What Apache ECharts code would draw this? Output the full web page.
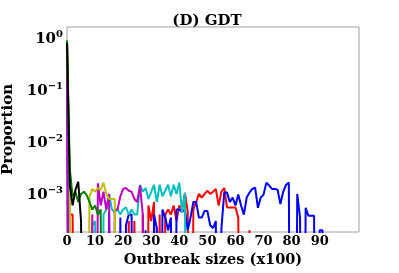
<!DOCTYPE html>
<html><head><meta charset="utf-8">
<script src="https://cdn.jsdelivr.net/npm/echarts@6/dist/echarts.min.js"></script>
<style>html,body{margin:0;padding:0;background:#fff}#c{width:399px;height:273px}</style>
</head><body><div id="c"></div>
<script>
// Outbreak size index (x100) is the array position: 0,1,2,...
const xTicks = [0,10,20,30,40,50,60,70,80,90];
const yTickExponents = [0,-1,-2,-3];

function seq(pairs, n){ const a=new Array(n).fill(0); for(const [i,v] of pairs) a[i]=v; return a; }
const N = 96;
// proportions (0 = no outbreak of that size)
const blueVals = seq([[0,0.85],[15,4.4e-4],[19,3.5e-4],[21,2.5e-4],[22,4e-4],[23,4e-4],[28,2e-4],[31,4e-4],[32,2.2e-4],[34,5e-4],[35,3.5e-4],[36,2e-4],[37,3.5e-4],[39,5e-4],[40,5e-4],[41,4.5e-4],[42,5e-4],[43,2e-4],[44,3.5e-4],[45,7e-4],[46,7e-4],[47,3.5e-4],[48,3.5e-4],[49,4.7e-4],[50,4.7e-4],[51,2.5e-4],[52,2.2e-4],[53,3e-4],[55,2.2e-4],[56,1.06e-3],[57,1.06e-3],[58,7e-4],[59,8.5e-4],[60,6e-4],[61,9.7e-4],[62,6e-4],[63,4e-4],[64,8.5e-4],[65,1.06e-3],[66,1.25e-3],[67,1.32e-3],[68,5.4e-4],[69,8.5e-4],[70,9.7e-4],[71,1.65e-3],[72,1.45e-3],[73,1.25e-3],[74,1.25e-3],[75,1.2e-3],[76,6.4e-4],[77,1.1e-3],[78,1.5e-3],[79,1.65e-3],[82,1e-3],[83,3.5e-4],[85,5.4e-4],[86,3.8e-4],[87,3.8e-4],[88,3.8e-4],[90,2e-4],[91,2e-4]], N);
const greenVals = seq([[0,0.9],[1,3e-3],[2,9e-4],[3,1.1e-3],[4,7e-4],[5,1e-3],[6,1.1e-3],[7,9.5e-4],[8,7e-4],[9,5e-4],[10,6e-4],[11,4e-4],[12,5e-4]], N);
const redVals = seq([[0,0.88],[1,4e-4],[2,4e-4],[22,3e-4],[24,3e-4],[27,4e-4],[29,6e-4],[30,3e-4],[31,7e-4],[33,4e-4],[35,4e-4],[36,5e-4],[37,4e-4],[38,6e-4],[39,3e-4],[40,6e-4],[41,5e-4],[42,1.05e-3],[43,4.5e-4],[45,5e-4],[46,7e-4],[47,1e-3],[48,8.5e-4],[49,1e-3],[50,1.15e-3],[51,1e-3],[52,1.1e-3],[53,1.25e-3],[54,6e-4],[55,1.1e-3],[56,1.3e-3],[57,5.5e-4],[58,5.5e-4],[59,5.5e-4],[60,5.5e-4],[61,3.5e-4],[65,2e-4]], N);
const cyanVals = seq([[0,0.86],[1,3e-4],[9,2.5e-4],[10,3e-4],[13,4e-4],[14,5e-4],[15,1e-3],[16,5e-4],[17,4.5e-4],[18,5e-4],[19,4e-4],[20,5e-4],[21,5.5e-4],[22,4e-4],[23,5e-4],[24,4e-4],[25,4e-4],[26,1.5e-3],[27,1.1e-3],[28,1.3e-3],[29,8e-4],[30,1.1e-3],[31,1.5e-3],[32,7e-4],[33,1.5e-3],[34,9e-4],[35,1.15e-3],[36,1.5e-3],[37,9e-4],[38,1.5e-3],[39,1e-3],[40,1.65e-3],[41,4.3e-4],[42,1.05e-3]], N);
const magentaVals = seq([[0,0.87],[9,4e-4],[11,1.6e-3],[12,6e-4],[13,1.1e-3],[14,5e-4],[15,1e-3],[17,5e-4],[18,5e-4],[19,9e-4],[20,1.25e-3],[21,1.3e-3],[22,1.15e-3],[23,1.1e-3],[24,8e-4],[25,7e-4],[26,1.45e-3],[27,4e-4]], N);
const yellowVals = seq([[0,0.9],[1,2e-3],[8,9e-4],[9,1.25e-3],[10,1.1e-3],[11,1.3e-3],[12,1.2e-3],[13,1.65e-3],[14,1e-3],[15,8e-4],[16,8e-4],[17,8e-4]], N);
const blackVals = seq([[0,0.8],[1,1.5e-3],[2,6e-4],[3,1.2e-3],[4,1.7e-3],[5,3e-4]], N);

const seriesList = [
  {vals: redVals, color:'#ff0000'},
  {vals: blueVals, color:'#0000ff'},
  {vals: cyanVals, color:'#00bfbf'},
  {vals: magentaVals, color:'#bf00bf'},
  {vals: yellowVals, color:'#bfbf00'},
  {vals: greenVals, color:'#008000'},
  {vals: blackVals, color:'#000000'}
];
const FLOOR = 1e-12; // zeros clipped to the bottom on the log axis

const chart = echarts.init(document.getElementById('c'), null, {renderer:'canvas'});
const serif = 'DejaVu Serif';
chart.setOption({
  animation:false,
  backgroundColor:'#fff',
  title:{text:'(D) GDT', left:202, top:9, textAlign:'center',
    textStyle:{fontFamily:serif, fontWeight:'bold', fontSize:15, color:'#000'}},
  grid:{left:67, right:40, top:27, bottom:41, outerBoundsMode:'none', containLabel:false,
    show:true, borderColor:'#a0a0a0', borderWidth:1, backgroundColor:'transparent'},
  xAxis:{type:'value', min:0, max:104, interval:10,
    name:'Outbreak sizes (x100)', nameLocation:'middle', nameGap:14,
    nameTextStyle:{fontFamily:serif, fontWeight:'bold', fontSize:14.5, color:'#000'},
    axisLine:{show:false}, axisTick:{show:false}, splitLine:{show:false},
    axisLabel:{margin:3, fontFamily:serif, fontWeight:'bold', fontSize:13, color:'#000',
      formatter:v => xTicks.includes(v) ? String(v) : ''}},
  yAxis:{type:'log', logBase:10, min:1.85e-4, max:1.63,
    name:'Proportion', nameLocation:'middle', nameGap:36,
    nameTextStyle:{fontFamily:serif, fontWeight:'bold', fontSize:15, color:'#000'},
    axisLine:{show:false}, axisTick:{show:false}, splitLine:{show:false}, minorTick:{show:false},
    axisLabel:{margin:4, color:'#000',
      formatter:v => { const e = Math.log10(v); const r = Math.round(e);
        if (Math.abs(e-r) > 1e-6 || !yTickExponents.includes(r)) return '';
        return '{b|10}{s|' + (r<0 ? '\u2212'+(-r) : r) + '}'; },
      rich:{ b:{fontFamily:serif, fontWeight:'bold', fontSize:15, color:'#000', verticalAlign:'bottom'},
             s:{fontFamily:serif, fontWeight:'bold', fontSize:10, color:'#000', verticalAlign:'top', padding:[0,0,8,0]} }}},
  series: seriesList.map(s => ({
    type:'line', showSymbol:false, symbol:'none', clip:true,
    lineStyle:{color:s.color, width:2}, itemStyle:{color:s.color},
    data: s.vals.map((v,i) => [i, v > 0 ? v : FLOOR])
  }))
});
</script></body></html>
